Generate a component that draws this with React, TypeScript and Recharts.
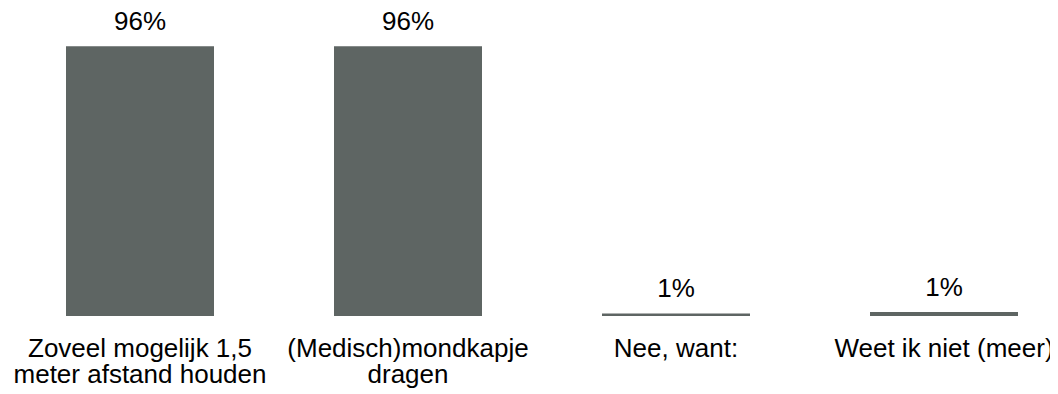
import React from 'react';
import { BarChart, Bar, XAxis, YAxis, LabelList } from 'recharts';

// Values
const CATEGORIES = [
  'Zoveel mogelijk 1,5\nmeter afstand houden',
  '(Medisch)mondkapje\ndragen',
  'Nee, want:',
  'Weet ik niet (meer)',
];
const SHARES = [96, 96, 0.9, 1.4];

const BAR_COLOR = '#5E6563';
const FONT = '"Liberation Sans", Arial, sans-serif';

const data = CATEGORIES.map((name, i) => ({ name, value: SHARES[i] }));

function CategoryTick(props: any) {
  const { x, y, payload } = props;
  const lines = String(payload.value).split('\n');
  return (
    <text x={x} y={y} textAnchor="middle" fill="#000" fontSize={26} fontFamily={FONT}>
      {lines.map((line, i) => (
        <tspan key={i} x={x} y={y + 41 + i * 26}>
          {line}
        </tspan>
      ))}
    </text>
  );
}

export default function App() {
  return (
    <div style={{ width: 1050, height: 386, background: '#fff' }}>
      <BarChart
        width={1050}
        height={386}
        data={data}
        margin={{ top: 27, right: -20, left: -2, bottom: 0 }}
        barCategoryGap={60}
      >
        <XAxis
          dataKey="name"
          height={78}
          axisLine={false}
          tickLine={false}
          tickSize={0}
          tickMargin={0}
          interval={0}
          tick={<CategoryTick />}
        />
        <YAxis hide domain={[0, 100]} />
        <Bar dataKey="value" fill={BAR_COLOR} isAnimationActive={false}>
          <LabelList
            dataKey="value"
            position="top"
            offset={16}
            formatter={(v: any) => `${Math.round(Number(v))}%`}
            style={{ fill: '#000', fontSize: 26, fontFamily: FONT }}
          />
        </Bar>
      </BarChart>
    </div>
  );
}
